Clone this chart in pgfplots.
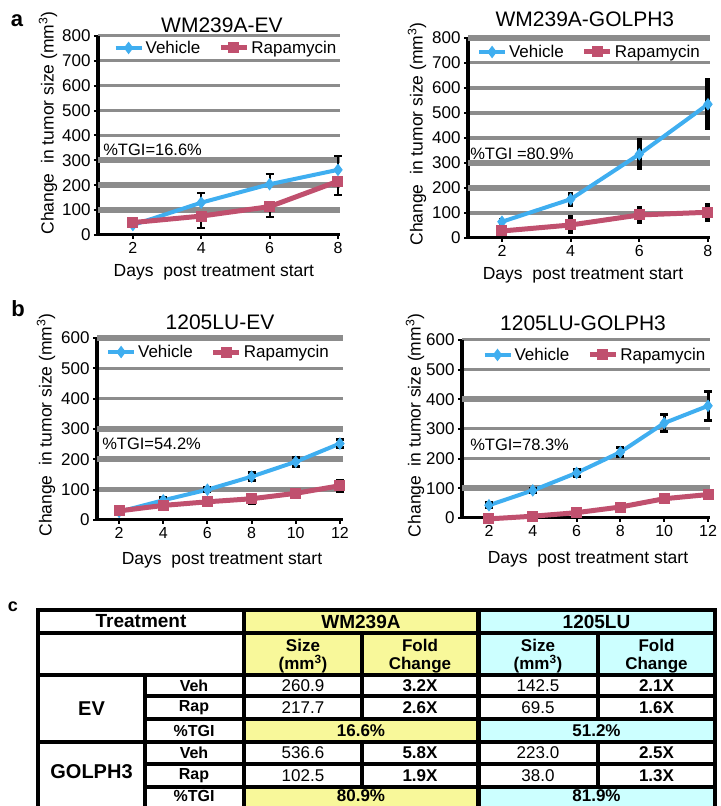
\documentclass[border=0pt]{standalone}
\usepackage{pgfplots}
\pgfplotsset{compat=1.18}
\usepackage{fontspec}
\setmainfont{Liberation Sans}
\newcommand\fs[1]{\fontsize{#1bp}{#1bp}\selectfont}
\definecolor{veh}{HTML}{3FAEF0}
\definecolor{rap}{HTML}{C0506E}
\definecolor{gridg}{HTML}{8C8C8C}
\definecolor{tyel}{HTML}{F8F89A}
\definecolor{tcyan}{HTML}{CCFFFF}
\pgfplotsset{
  panel/.style={
    scale only axis, axis lines*=left, clip=false, ymin=0,
    /pgf/number format/assume math mode=true,
    x axis line style={line width=3bp},
    y axis line style={line width=4bp},
    tick style={black, line width=2bp},
    major tick length=4bp, minor tick length=0pt,
    tick align=outside,
    ymajorgrids, yminorgrids,
    major grid style={gridg, line width=3bp},
    minor grid style={gridg, line width=4.5bp},
    extra y tick labels={},
    extra y tick style={ymajorgrids=true, major grid style={gridg, line width=6bp}, major tick length=0pt},
    xticklabel style={font=\fs{16}},
    yticklabel style={font=\fs{17}},
    every axis title/.style={anchor=base, font=\fs{21}},
    every axis x label/.style={anchor=base, font=\fs{17.5}},
    every axis y label/.style={rotate=90, anchor=center, font=\fs{17.5}},
    xlabel={Days\ \ post treatment start},
    ylabel={Change\ \ in tumor size (mm\textsuperscript{3})},
    legend style={draw=none, fill=none, font=\fs{17}, anchor=center, inner sep=0pt,
      /tikz/every even column/.append style={column sep=16bp}},
    legend columns=2,
    legend image code/.code={\draw[mark repeat=2,mark phase=2,##1] plot coordinates {(0bp,0bp) (13bp,0bp) (26bp,0bp)};},
  },
  vehs/.style={color=veh, line width=4bp, mark=diamond*, mark size=5.5bp, mark options={solid, line width=1bp, fill=veh, draw=veh}},
  raps/.style={color=rap, line width=5bp, mark=square*, mark size=5bp, mark options={solid, line width=1bp, fill=rap, draw=rap}},
  ebcap/.style={/pgfplots/error bars/y explicit,
    /pgfplots/error bars/error bar style={black, line width=2bp, solid},
    /pgfplots/error bars/error mark options={rotate=90, black, line width=2bp, mark size=4bp}},
  ebthick/.style={/pgfplots/error bars/y explicit, /pgfplots/error bars/y dir=both,
    /pgfplots/error bars/error mark=none,
    /pgfplots/error bars/error bar style={black, line width=5bp, solid}},
  ebsmall/.style={/pgfplots/error bars/y explicit, /pgfplots/error bars/y dir=both,
    /pgfplots/error bars/error bar style={black, line width=3bp, solid},
    /pgfplots/error bars/error mark options={rotate=90, black, line width=3bp, mark size=4bp}},
}
\begin{document}
\begin{tikzpicture}[x=1bp,y=1bp]
\useasboundingbox (0,0) rectangle (721bp,806bp);

% ---------------- a left
\begin{axis}[panel, at={(98bp,571bp)}, anchor=south west, width=242bp, height=199bp,
  xmin=0.98, xmax=8.06, ymax=800, xtick={2,4,6,8}, ytick={0,100,...,800},
  extra y ticks={100,200,300},
  title={WM239A-EV}, title style={at={(0.512,1.020)}},
  ylabel style={at={(axis description cs:-0.2066,0.563)}},
  xlabel style={at={(axis description cs:0.479,-0.211)}},
  legend style={at={(0.529,0.94)}}]
\addplot[vehs, ebcap, /pgfplots/error bars/y dir=plus] coordinates {(2,40) +- (0,8) (4,130) +- (0,40) (6,204) +- (0,40) (8,262) +- (0,55)};
\addplot[raps, ebcap, /pgfplots/error bars/y dir=minus] coordinates {(2,50) +- (0,10) (4,76) +- (0,46) (6,114) +- (0,41) (8,216) +- (0,56)};
\legend{Vehicle,Rapamycin}
\node[anchor=west, inner sep=0pt, font=\fs{16.5}] at (axis cs:1.13,341) {\%TGI=16.6\%};
\end{axis}

% ---------------- a right
\begin{axis}[panel, at={(468bp,568bp)}, anchor=south west, width=242bp, height=200bp,
  xmin=1.01, xmax=8.06, ymax=800, xtick={2,4,6,8}, ytick={0,100,...,800},
  minor ytick={100,400,500,600}, extra y ticks={200,300,800},
  title={WM239A-GOLPH3}, title style={at={(0.483,1.055)}},
  ylabel style={at={(axis description cs:-0.2107,0.52)}},
  xlabel style={at={(axis description cs:0.475,-0.21)}},
  legend style={at={(0.502,0.93)}}]
\addplot[vehs, ebthick] coordinates {(2,65) +- (0,15) (4,155) +- (0,30) (6,335) +- (0,65) (8,535) +- (0,105)};
\addplot[raps, ebthick] coordinates {(2,28) +- (0,12) (4,52) +- (0,38) (6,92) +- (0,36) (8,103) +- (0,38)};
\legend{Vehicle,Rapamycin}
\node[anchor=west, inner sep=0pt, font=\fs{16.5}] at (axis cs:1.07,336) {\%TGI =80.9\%};
\end{axis}

% ---------------- b left
\begin{axis}[panel, at={(97bp,286bp)}, anchor=south west, width=246bp, height=182bp,
  xmin=1.0, xmax=12.14, ymax=600, xtick={2,4,6,8,10,12}, ytick={0,100,...,600},
  minor ytick={100}, extra y ticks={200,300,600},
  title={1205LU-EV}, title style={at={(0.5,1.044)}},
  ylabel style={at={(axis description cs:-0.207,0.522)}},
  xlabel style={at={(axis description cs:0.508,-0.247)}},
  legend style={at={(0.494,0.923)}}]
\addplot[vehs, ebsmall] coordinates {(2,27) +- (0,5) (4,65) +- (0,8) (6,100) +- (0,6) (8,143) +- (0,12) (10,192) +- (0,14) (12,252) +- (0,14)};
\addplot[raps, ebsmall] coordinates {(2,30) +- (0,8) (4,48) +- (0,8) (6,60) +- (0,10) (8,70) +- (0,14) (10,88) +- (0,6) (12,113) +- (0,18)};
\legend{Vehicle,Rapamycin}
\node[anchor=west, inner sep=0pt, font=\fs{16.5}] at (axis cs:1.23,251) {\%TGI=54.2\%};
\end{axis}

% ---------------- b right
\begin{axis}[panel, at={(462bp,288bp)}, anchor=south west, width=248bp, height=178bp,
  xmin=0.77, xmax=12.09, ymax=600, xtick={2,4,6,8,10,12}, ytick={0,100,...,600},
  extra y ticks={100,400},
  title={1205LU-GOLPH3}, title style={at={(0.488,1.056)}},
  ylabel style={at={(axis description cs:-0.1895,0.52)}},
  xlabel style={at={(axis description cs:0.508,-0.253)}},
  legend style={at={(0.536,0.916)}}]
\addplot[vehs, ebsmall] coordinates {(2,43) +- (0,8) (4,93) +- (0,8) (6,152) +- (0,12) (8,222) +- (0,15) (10,320) +- (0,30) (12,378) +- (0,50)};
\addplot[raps, ebsmall] coordinates {(2,-3) +- (0,5) (4,6) +- (0,5) (6,18) +- (0,8) (8,37) +- (0,8) (10,65) +- (0,10) (12,79) +- (0,10)};
\legend{Vehicle,Rapamycin}
\node[anchor=west, inner sep=0pt, font=\fs{16.5}] at (axis cs:1.14,246) {\%TGI=78.3\%};
\end{axis}

% panel letters
\node[font=\fs{22}\bfseries] at (17bp,785bp) {a};
\node[font=\fs{22}\bfseries] at (18bp,497bp) {b};
\node[font=\fs{18}\bfseries] at (13bp,199bp) {c};

% ---------------- table
\fill[tyel] (244,131) rectangle (478,196);
\fill[tcyan] (478,131) rectangle (715,196);
\fill[tyel] (244,64) rectangle (478,87);
\fill[tcyan] (478,64) rectangle (715,87);
\fill[tyel] (244,-10) rectangle (478,19);
\fill[tcyan] (478,-10) rectangle (715,19);
\begin{scope}[line width=3.5bp, black]
\draw (38,-10) -- (38,196) -- (715,196) -- (715,-10);
\draw (38,173) -- (715,173);
\draw (38,131) -- (715,131);
\draw (38,64) -- (715,64);
\foreach \yy in {110,87,42,19} \draw (145,\yy) -- (715,\yy);
\draw (244,-10) -- (244,196);
\draw (145,-10) -- (145,131);
\draw (362,87) -- (362,173); \draw (362,19) -- (362,64);
\draw (598,87) -- (598,173); \draw (598,19) -- (598,64);
\draw[line width=5bp] (478,-10) -- (478,196);
\end{scope}
\begin{scope}[every node/.style={inner sep=0pt, align=center}]
\node[font=\fs{19}\bfseries] at (141,184.5) {Treatment};
\node[font=\fs{19}\bfseries] at (361,184.5) {WM239A};
\node[font=\fs{19}\bfseries] at (596.5,184.5) {1205LU};
\node[font=\fontsize{17bp}{18.5bp}\selectfont\bfseries] at (303,150) {Size\\(mm\textsuperscript{3})};
\node[font=\fontsize{17bp}{18.5bp}\selectfont\bfseries] at (420,150) {Fold\\Change};
\node[font=\fontsize{17bp}{18.5bp}\selectfont\bfseries] at (538,150) {Size\\(mm\textsuperscript{3})};
\node[font=\fontsize{17bp}{18.5bp}\selectfont\bfseries] at (656.5,150) {Fold\\Change};
\node[font=\fs{20}\bfseries] at (91.5,97.5) {EV};
\node[font=\fs{20}\bfseries] at (91.5,34) {GOLPH3};
\node[font=\fs{16}\bfseries] at (194,120.5) {Veh};
\node[font=\fs{16}\bfseries] at (194,98.5) {Rap};
\node[font=\fs{16}\bfseries] at (194,75.5) {\%TGI};
\node[font=\fs{16}\bfseries] at (194,53) {Veh};
\node[font=\fs{16}\bfseries] at (194,30.5) {Rap};
\node[font=\fs{16}\bfseries] at (194,10) {\%TGI};
\node[font=\fs{17}] at (303,120.5) {260.9};
\node[font=\fs{17}\bfseries] at (420,120.5) {3.2X};
\node[font=\fs{17}] at (538,120.5) {142.5};
\node[font=\fs{17}\bfseries] at (656.5,120.5) {2.1X};
\node[font=\fs{17}] at (303,98.5) {217.7};
\node[font=\fs{17}\bfseries] at (420,98.5) {2.6X};
\node[font=\fs{17}] at (538,98.5) {69.5};
\node[font=\fs{17}\bfseries] at (656.5,98.5) {1.6X};
\node[font=\fs{17}\bfseries] at (361,75.5) {16.6\%};
\node[font=\fs{17}\bfseries] at (596.5,75.5) {51.2\%};
\node[font=\fs{17}] at (303,53) {536.6};
\node[font=\fs{17}\bfseries] at (420,53) {5.8X};
\node[font=\fs{17}] at (538,53) {223.0};
\node[font=\fs{17}\bfseries] at (656.5,53) {2.5X};
\node[font=\fs{17}] at (303,30.5) {102.5};
\node[font=\fs{17}\bfseries] at (420,30.5) {1.9X};
\node[font=\fs{17}] at (538,30.5) {38.0};
\node[font=\fs{17}\bfseries] at (656.5,30.5) {1.3X};
\node[font=\fs{17}\bfseries] at (361,10) {80.9\%};
\node[font=\fs{17}\bfseries] at (596.5,10) {81.9\%};
\end{scope}
\end{tikzpicture}
\end{document}
